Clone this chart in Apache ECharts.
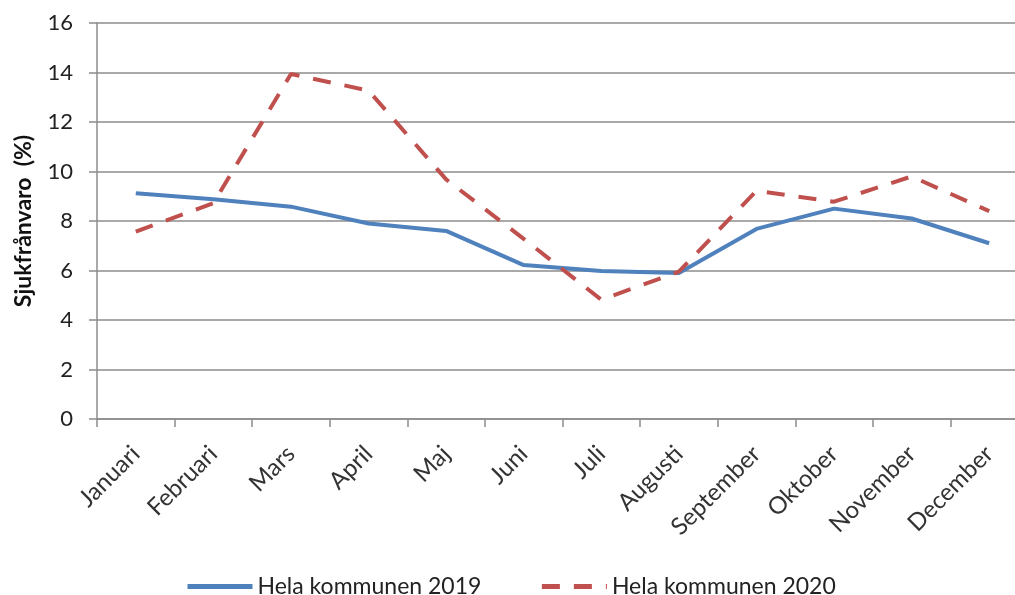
<!DOCTYPE html>
<html>
<head>
<meta charset="utf-8">
<script src="https://cdn.jsdelivr.net/npm/echarts@6/dist/echarts.min.js"></script>
<style>
html,body{margin:0;padding:0;background:#fff;}
#chart{width:1015px;height:595px;}
</style>
</head>
<body>
<div id="chart"></div>
<script>
const months = ['Januari','Februari','Mars','April','Maj','Juni','Juli','Augusti','September','Oktober','November','December'];
const values2019 = [9.12, 8.88, 8.58, 7.9, 7.6, 6.22, 5.98, 5.9, 7.68, 8.5, 8.1, 7.1];
const values2020 = [7.57, 8.72, 13.94, 13.27, 9.68, 7.28, 4.82, 5.95, 9.22, 8.78, 9.8, 8.4];
const seriesNames = ['Hela kommunen 2019', 'Hela kommunen 2020'];
const yTitle = 'Sjukfrånvaro  (%)';

const font = 'Lato, "Open Sans", sans-serif';
const chart = echarts.init(document.getElementById('chart'));
chart.setOption({
  animation: false,
  backgroundColor: '#fff',
  grid: { left: 97, top: 23, width: 931, height: 396, containLabel: false, outerBoundsMode: 'none' },
  legend: {
    left: 180,
    top: 570,
    itemWidth: 65,
    itemHeight: 14,
    itemGap: 58,
    textStyle: { fontFamily: font, fontSize: 23, color: '#222' },
    itemStyle: { opacity: 0 },
    lineStyle: { width: 5 },
    data: seriesNames
  },
  xAxis: {
    type: 'category',
    data: months,
    boundaryGap: true,
    axisLine: { lineStyle: { color: '#8c8c8c', width: 1.5 } },
    axisTick: { show: true, length: 8, lineStyle: { color: '#8c8c8c', width: 1.5 } },
    axisLabel: { rotate: 45, margin: 31, fontFamily: font, fontSize: 24, color: '#333', interval: 0 }
  },
  yAxis: {
    type: 'value',
    min: 0, max: 16, interval: 2,
    name: yTitle,
    nameLocation: 'middle',
    nameGap: 62,
    nameTextStyle: { fontFamily: font, fontSize: 23, fontWeight: 'bold', color: '#111' },
    axisLine: { show: true, lineStyle: { color: '#8c8c8c', width: 1.5 } },
    axisTick: { show: true, length: 8, lineStyle: { color: '#8c8c8c', width: 1.5 } },
    axisLabel: { margin: 24, fontFamily: font, fontSize: 22, color: '#222' },
    splitLine: { show: true, lineStyle: { color: '#8c8c8c', width: 1.5 } }
  },
  series: [
    {
      name: seriesNames[0],
      type: 'line',
      data: values2019,
      symbol: 'none',
      itemStyle: { color: '#4F81BD' },
      lineStyle: { color: '#4F81BD', width: 4 }
    },
    {
      name: seriesNames[1],
      type: 'line',
      data: values2020,
      symbol: 'none',
      itemStyle: { color: '#C0504D' },
      lineStyle: { color: '#C0504D', width: 4, type: [18, 14] }
    }
  ]
});
</script>
</body>
</html>
